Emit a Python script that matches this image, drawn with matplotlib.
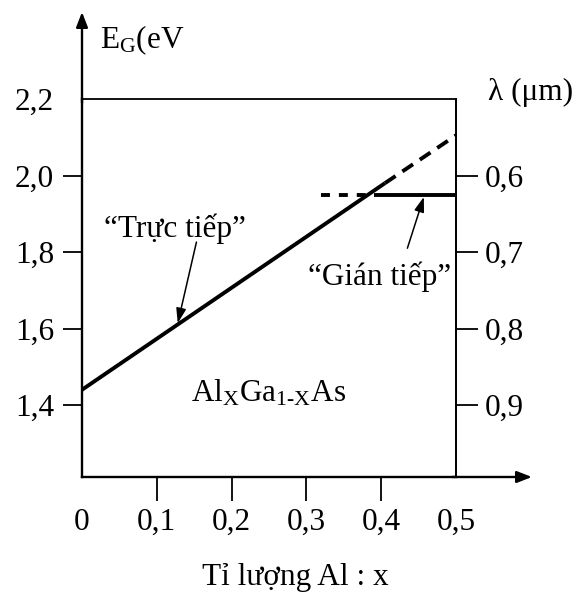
import matplotlib.pyplot as plt

plt.rcParams["font.family"] = ["Liberation Serif", "DejaVu Serif"]
plt.rcParams["mathtext.fontset"] = "custom"
plt.rcParams["mathtext.rm"] = "Liberation Serif"
plt.rcParams["mathtext.it"] = "Liberation Serif"

# data
x_ticks = [0.0, 0.1, 0.2, 0.3, 0.4, 0.5]
x_labels = ["0", "0,1", "0,2", "0,3", "0,4", "0,5"]
eg_ticks = [1.4, 1.6, 1.8, 2.0, 2.2]
eg_labels = ["1,4", "1,6", "1,8", "2,0", "2,2"]
lam_ticks = [0.6, 0.7, 0.8, 0.9]
lam_labels = ["0,6", "0,7", "0,8", "0,9"]

direct_x = [0.0, 0.405]
direct_e = [1.44, 1.98]
direct_dash_x = [0.405, 0.5]
direct_dash_e = [1.98, 2.105]
indirect_x = [0.39, 0.5]
indirect_e = [1.95, 1.95]
indirect_dash_x = [0.32, 0.39]
indirect_dash_e = [1.95, 1.95]

fs = 22.5
W, H = 576, 595
fig = plt.figure(figsize=(W / 100, H / 100), dpi=100)
ax = fig.add_axes([82 / W, 1 - 477 / H, (456 - 82) / W, (477 - 99) / H])
ax.set_xlim(0, 0.5)
ax.set_ylim(1.212, 2.2)

for s in ["left", "bottom"]:
    ax.spines[s].set_linewidth(1.7)
for s in ["top", "right"]:
    ax.spines[s].set_linewidth(1.3)

# axis arrows extending past the box
ax.annotate("", xy=(0, 1.23), xytext=(0, 0.99), xycoords="axes fraction",
            arrowprops=dict(arrowstyle="-|>,head_length=0.9,head_width=0.35",
                            lw=1.7, color="black", shrinkA=0, shrinkB=0),
            annotation_clip=False)
ax.annotate("", xy=(1.203, 0), xytext=(0.99, 0), xycoords="axes fraction",
            arrowprops=dict(arrowstyle="-|>,head_length=0.9,head_width=0.35",
                            lw=1.7, color="black", shrinkA=0, shrinkB=0),
            annotation_clip=False)

ax.set_xticks(x_ticks, x_labels, fontsize=fs)
ax.set_yticks(eg_ticks, eg_labels, fontsize=fs)
ax.tick_params(axis="x", direction="out", length=17, width=1.3, pad=5)
ax.tick_params(axis="y", direction="out", length=14, width=1.3, pad=6)
xt = ax.xaxis.get_major_ticks()
xt[0].tick1line.set_visible(False)
xt[-1].tick1line.set_visible(False)
ax.yaxis.get_major_ticks()[-1].tick1line.set_visible(False)

sec = ax.secondary_yaxis("right", functions=(lambda e: 1.6 - e / 2,
                                            lambda l: 3.2 - 2 * l))
sec.set_yticks(lam_ticks, lam_labels, fontsize=fs)
sec.tick_params(direction="out", length=16, width=1.3, pad=5)
sec.spines["right"].set_linewidth(1.3)

ax.plot(direct_x, direct_e, color="black", lw=2.8, solid_capstyle="butt")
ax.plot(direct_dash_x, direct_dash_e, color="black", lw=2.8, dashes=(3.3, 2.1))
ax.plot(indirect_x, indirect_e, color="black", lw=2.8, solid_capstyle="butt")
ax.plot(indirect_dash_x, indirect_dash_e, color="black", lw=2.8, dashes=(2.3, 2.3))

arrow = dict(arrowstyle="-|>,head_length=0.9,head_width=0.3", lw=1.1,
             color="black", shrinkA=0, shrinkB=0)
ax.annotate("", xy=(0.128, 1.614), xytext=(0.153, 1.826), arrowprops=arrow)
ax.text(0.124, 1.862, "\u201cTrực tiếp\u201d", fontsize=fs, ha="center", va="center")
ax.annotate("", xy=(0.457, 1.944), xytext=(0.435, 1.81), arrowprops=arrow)
ax.text(0.398, 1.735, "\u201cGián tiếp\u201d", fontsize=fs, ha="center", va="center")
ax.text(0.249, 1.43, r"$\mathrm{Al_XGa_{1\text{-}X}As}$", fontsize=fs,
        ha="center", va="center")

fig.text(100 / W, 1 - 40 / H, r"$\mathrm{E_G}$(eV", fontsize=fs, ha="left", va="center")
fig.text(488 / W, 1 - 92 / H, "λ (μm)", fontsize=fs, ha="left", va="center")
fig.text(295 / W, 1 - 577 / H, "Tỉ lượng Al : x", fontsize=fs, ha="center", va="center")

fig.savefig("out.png", dpi=100)
